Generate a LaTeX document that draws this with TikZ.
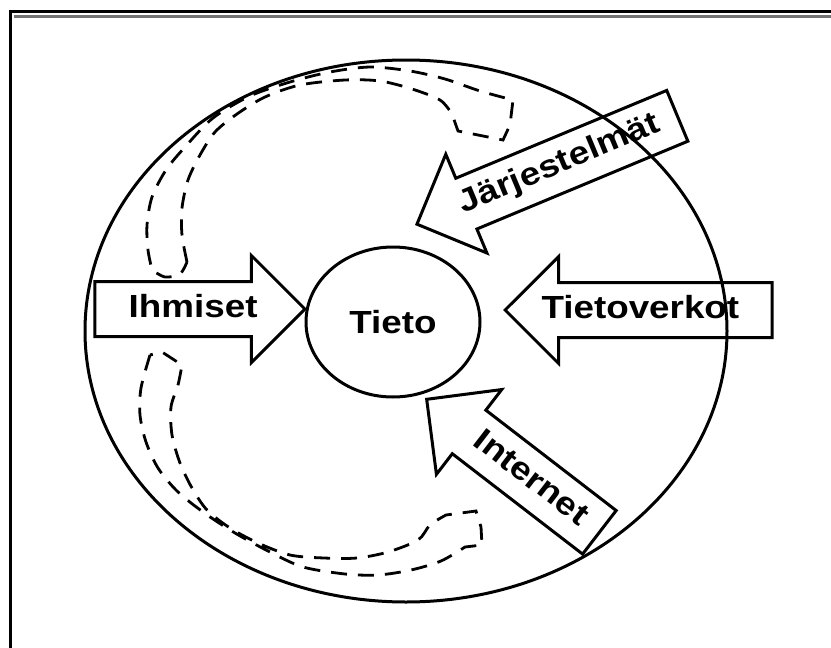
\documentclass[tikz,border=0pt]{standalone}
\usepackage{fontspec}
\newfontfamily\labelfont[FakeStretch=1.15]{Liberation Sans}
\usetikzlibrary{shapes.geometric,shapes.arrows}

\begin{document}
\begin{tikzpicture}[x=1pt,y=-1pt,line width=3pt,
  label text/.style={font=\labelfont\bfseries\fontsize{32}{32}\selectfont},
  block arrow/.style={single arrow,draw,label text,inner xsep=0pt,inner ysep=12pt,
    text height=22pt,text depth=6pt,minimum width=104pt,single arrow head extend=26pt,anchor=tip},
  round node/.style={ellipse,draw,label text,inner sep=0pt},
  band/.style={line width=2.8pt,dash pattern=on 16pt off 11pt}]
  \useasboundingbox (0,0) rectangle (831,648);

  % frame
  \draw[line width=3pt] (10,648) -- (10,11) -- (831,11);
  \draw[black!55,line width=3pt] (14,16.5) -- (831,16.5);

  \node[round node,minimum width=642pt,minimum height=542pt] (world) at (406,331) {};
  \node[round node,minimum width=174pt,minimum height=150pt] (tieto) at (393,322) {Tieto};

  \node[block arrow,minimum height=210pt] (ihmiset) at (307,309) {\hspace*{14pt}Ihmiset};
  \node[block arrow,minimum height=267pt,shape border rotate=180] (verkot) at (503,310) {Tietoverkot\hspace*{24pt}};
  \node[block arrow,minimum height=282pt,shape border rotate=180,rotate=22.6] (jarj) at (415,225) {Järjestelmät};
  \node[block arrow,minimum height=218pt,shape border rotate=180,rotate=-37.6] (internet) at (425,398) {\hspace*{16pt}Internet};

  % dashed round-trips
  \draw[band] plot[smooth] coordinates {(187,262) (182,235) (182,208) (188,180) (200,155) (215,132) (237,114) (265,97) (300,85) (345,80) (380,81) (412,89) (440,100) (452,114)}
    -- (458,131) -- (503,140) -- (510,125) -- (513,100)
    -- plot[smooth] coordinates {(513,100) (480,91) (445,79) (410,71) (370,67) (330,72) (290,82) (250,96) (213,118) (185,147) (166,170) (152,197) (147,225) (148,250) (152,270)}
    -- plot[smooth] coordinates {(152,270) (165,277) (180,274) (187,262)};
  \draw[band] plot[smooth] coordinates {(150,355) (141,388) (140,415) (146,442) (158,468) (177,491) (203,512) (235,533) (270,552) (303,567) (345,574) (378,575) (411,570) (441,561) (465,547)}
    -- (482,545) -- (481,527) -- (476,511) -- (446,515)
    -- plot[smooth] coordinates {(446,515) (430,525) (418,540) (388,552) (357,558) (324,558) (290,555) (258,543) (230,528) (207,510) (192,488) (180,463) (172,435) (171,407) (178,385) (182,365)}
    -- (162,352) -- (150,355);
\end{tikzpicture}
\end{document}
